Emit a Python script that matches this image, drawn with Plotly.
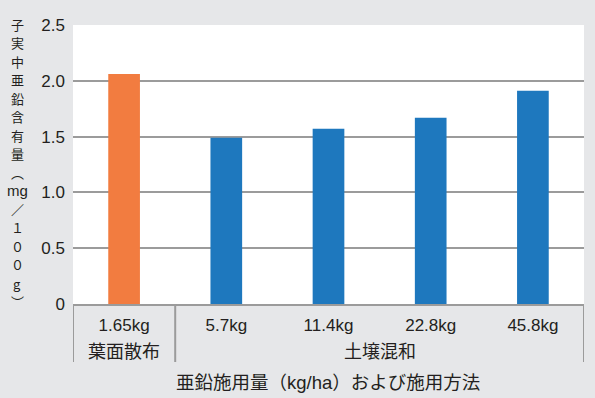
import plotly.graph_objects as go

methods = ["葉面散布", "土壌混和", "土壌混和", "土壌混和", "土壌混和"]
rates = ["1.65kg", "5.7kg", "11.4kg", "22.8kg", "45.8kg"]
zinc = [2.06, 1.49, 1.57, 1.67, 1.91]
colors = ["#f27c40", "#1e78be", "#1e78be", "#1e78be", "#1e78be"]
ytickvals = [0, 0.5, 1.0, 1.5, 2.0, 2.5]
yticktext = ["0", "0.5", "1.0", "1.5", "2.0", "2.5"]
ytitle_chars = ["子", "実", "中", "亜", "鉛", "含", "有", "量", "︵", "mg", "／", "１", "０", "０", "g", "︶"]
xtitle = "亜鉛施用量（kg/ha）および施用方法"

FONT = "Liberation Sans, Noto Sans CJK JP"
CJK = "Noto Sans CJK JP"
BG = "#e6e7e9"
GRID = "#9b9b9b"
TXT = "#231f20"

W, H = 595, 398
ML, MR, MT, MB = 73, 11, 25, 94
PH = H - MT - MB

def py(pix):
    # pixel row -> paper y
    return (H - MB - pix) / PH

def px(pix):
    return (pix - ML) / (W - ML - MR)

fig = go.Figure(go.Bar(
    x=list(range(len(rates))),
    y=zinc,
    marker=dict(color=colors, line=dict(width=0)),
    width=0.31,
))

# group boundaries and group label positions derived from the methods list
groups = []
start = 0
for i in range(1, len(methods) + 1):
    if i == len(methods) or methods[i] != methods[start]:
        groups.append((methods[start], start, i - 1))
        start = i

shapes = []
annotations = []
bounds = sorted({g[1] - 0.5 for g in groups} | {g[2] + 0.5 for g in groups})
for b in bounds:
    shapes.append(dict(type="line", xref="x", yref="paper", x0=b, x1=b,
                       y0=0, y1=py(362), line=dict(color=GRID, width=2)))
for name, a, b in groups:
    annotations.append(dict(text=name, xref="x", yref="paper", x=(a + b) / 2,
                            y=py(350), xanchor="center", yanchor="middle",
                            showarrow=False, font=dict(size=18, color=TXT, family=CJK)))

# vertical y-axis title, one glyph per row
for i, ch in enumerate(ytitle_chars):
    annotations.append(dict(text=ch, xref="paper", yref="paper",
                            x=px(17), y=py(24 + i * 18.5), xanchor="center", yanchor="middle",
                            showarrow=False,
                            font=dict(size=13 if ch != "mg" else 15, color=TXT,
                                      family=CJK if ch != "mg" else FONT)))

annotations.append(dict(text=xtitle, xref="paper", yref="paper",
                        x=px(328), y=py(382), xanchor="center", yanchor="middle",
                        showarrow=False, font=dict(size=18.5, color=TXT, family=FONT)))

fig.update_layout(
    width=W, height=H,
    margin=dict(l=ML, r=MR, t=MT, b=MB),
    paper_bgcolor=BG,
    plot_bgcolor="white",
    font=dict(family=FONT, size=17, color=TXT),
    showlegend=False,
    shapes=shapes,
    annotations=annotations,
    xaxis=dict(
        tickmode="array", tickvals=list(range(len(rates))), ticktext=rates,
        range=[-0.5, len(rates) - 0.5],
        showline=True, linecolor=GRID, linewidth=2,
        tickfont=dict(size=17, color=TXT),
        ticks="", showgrid=False, zeroline=False,
        ticklabelstandoff=5,
    ),
    yaxis=dict(
        range=[0, 2.5],
        tickvals=ytickvals, ticktext=yticktext,
        showgrid=True, gridcolor=GRID, gridwidth=2,
        zeroline=False, showline=False, ticks="",
        tickfont=dict(size=17, color=TXT),
        ticklabelstandoff=7,
    ),
)

fig.write_html("out.html")
